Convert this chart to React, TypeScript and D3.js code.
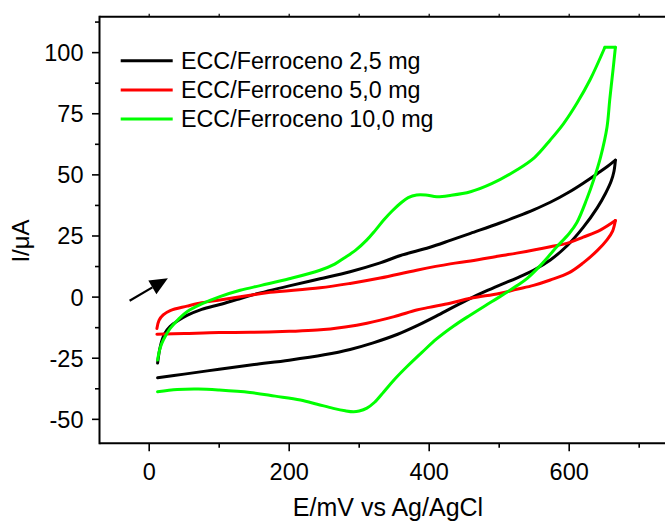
import React from "react";
import * as d3 from "d3";

type P = [number, number];

const seriesNames = ["ECC/Ferroceno 2,5 mg", "ECC/Ferroceno 5,0 mg", "ECC/Ferroceno 10,0 mg"];
const seriesColors = ["#000000", "#ff0000", "#00ff00"];

// E (mV), I (µA) — forward scan and reverse scan (reverse starts at the switching vertex)
const blackForward: P[] = [
  [12, -27], [16, -20], [22, -15], [30, -12], [42, -9.5], [54, -7.5], [75, -5], [101, -3], [125, -1],
  [149, 1], [200, 4.6], [244, 7.5], [287, 10.4], [330, 14], [359, 17], [400, 20.3], [430, 23.2],
  [459, 26.1], [500, 30.2], [525, 32.9], [550, 35.8], [573, 38.8], [600, 43], [620, 46.6],
  [640, 50.5], [655, 53.5], [666, 56],
];
const blackReverse: P[] = [
  [666, 56], [664, 51.5], [660, 47.5], [652, 42.5], [640, 36.5], [620, 28.5], [597, 21], [573, 15.2],
  [549, 11], [525, 7.8], [500, 4.8], [480, 2.3], [459, -0.5], [435, -4], [410, -7.8], [382, -11.8],
  [355, -15.2], [320, -18.7], [287, -21.4], [250, -23.6], [200, -25.8], [150, -27.6], [100, -29.5],
  [50, -31.5], [12, -33],
];

const redForward: P[] = [
  [11, -12.8], [14, -9.5], [20, -7.3], [30, -5.5], [54, -3.7], [75, -2.3], [101, -1.2], [144, 0.8],
  [173, 2], [244, 3.8], [287, 5.6], [330, 7.8], [382, 11], [430, 13.6], [459, 14.8], [500, 16.8],
  [525, 18], [573, 20.6], [600, 22.3], [620, 24.5], [645, 27.5], [666, 31.3],
];
const redReverse: P[] = [
  [666, 31.3], [662, 27], [654, 23.4], [640, 19], [620, 14], [600, 10], [573, 7], [549, 4.8], [525, 3.2],
  [500, 1.5], [459, -0.5], [430, -2.5], [400, -4.2], [382, -5.3], [350, -8], [311, -10.7],
  [280, -12.2], [240, -13.5], [200, -14], [144, -14.4], [100, -14.5], [50, -14.9], [11, -15.2],
];

const greenForward: P[] = [
  [12, -25.7], [15, -21.5], [18, -18.9], [24, -15.5], [30, -12.8], [42, -9], [54, -6], [75, -2.8],
  [101, 0.2], [130, 2.8], [160, 4.8], [200, 7.5], [244, 11], [265, 13.5], [278, 15.9], [295, 19.2],
  [311, 23.4], [323, 27.3], [335, 31.5], [347, 35.2], [359, 38.4], [370, 40.7], [382, 41.8],
  [395, 41.8], [411, 41.1], [430, 41.6], [459, 43.1], [490, 46.5], [525, 52], [550, 57],
  [573, 64.3], [592, 71], [611, 79.3], [630, 89], [651, 102.2],
];
const greenFlat: P[] = [[651, 102.2], [666, 102.2]];
const greenReverse: P[] = [
  [666, 102.2], [663, 94], [658, 81], [654, 69.5], [645, 57.5], [635, 48], [625, 40], [611, 30.5],
  [600, 26], [582, 20.5], [573, 17.5], [560, 13.3], [540, 7.7], [525, 4.6], [500, 0], [480, -3.5],
  [459, -7.3], [435, -11.8], [411, -17], [390, -22.5], [368, -28.5], [350, -33.8], [335, -38.8],
  [322, -43], [311, -45.4], [300, -46.6], [292, -46.9], [280, -46.5], [263, -45.5], [240, -43.8],
  [216, -42.1], [180, -40.5], [144, -39], [100, -38], [70, -37.6], [40, -37.8], [12, -38.7],
];

const segments: { pts: P[]; color: number }[] = [
  { pts: blackForward, color: 0 },
  { pts: blackReverse, color: 0 },
  { pts: redForward, color: 1 },
  { pts: redReverse, color: 1 },
  { pts: greenForward, color: 2 },
  { pts: greenFlat, color: 2 },
  { pts: greenReverse, color: 2 },
];

const xMajor = [0, 200, 400, 600];
const xMinor = [100, 300, 500, 700];
const xTop = [0, 100, 200, 300, 400, 500, 600, 700];
const yMajor = [-50, -25, 0, 25, 50, 75, 100];
const yMinor = [-37.5, -12.5, 12.5, 37.5, 62.5, 87.5, 112.5];

const xLabel = "E/mV vs Ag/AgCl";
const yLabel = "I/\u03bcA";

// scan direction arrow (tail, head) in data units
const arrowPts: P[] = [[-28, -1.5], [26.7, 7.7]];

const W = 665;
const H = 522;
const L = 99.5;
const T = 16.7;
const B = 443.3;
const R = 668;

export default function App() {
  const x = d3.scaleLinear().domain([-71, 740]).range([L, 99.5 + 811 * 0.7]);
  const y = d3.scaleLinear().domain([-59.8, 114.7]).range([B, T]);
  const line = d3
    .line<P>()
    .x((d) => x(d[0]))
    .y((d) => y(d[1]))
    .curve(d3.curveCatmullRom.alpha(0.5));

  const font = "Arial, 'Liberation Sans', Helvetica, sans-serif";

  const ax0 = x(arrowPts[0][0]);
  const ay0 = y(arrowPts[0][1]);
  const ax1 = x(arrowPts[1][0]);
  const ay1 = y(arrowPts[1][1]);
  const ang = Math.atan2(ay1 - ay0, ax1 - ax0);
  const headLen = 18;
  const headW = 8;
  const bx = ax1 - headLen * Math.cos(ang);
  const by = ay1 - headLen * Math.sin(ang);
  const px = -Math.sin(ang);
  const py = Math.cos(ang);
  const head = `${ax1},${ay1} ${bx + headW * px},${by + headW * py} ${bx - headW * px},${by - headW * py}`;

  return (
    <svg
      width={W}
      height={H}
      style={{ position: "absolute", left: 0, top: 0, background: "#fff" }}
      fontFamily={font}
    >
      <rect x={0} y={0} width={W} height={H} fill="#fff" />
      {/* curves */}
      {segments.map((s, i) => (
        <path
          key={i}
          d={line(s.pts) || ""}
          fill="none"
          stroke={seriesColors[s.color]}
          strokeWidth={3}
          strokeLinejoin="round"
          strokeLinecap="round"
        />
      ))}
      {/* frame */}
      <line x1={L} y1={T} x2={R} y2={T} stroke="#000" strokeWidth={2} />
      <line x1={L} y1={B} x2={R} y2={B} stroke="#000" strokeWidth={2} />
      <line x1={L} y1={T - 1} x2={L} y2={B + 1} stroke="#000" strokeWidth={2} />
      {/* x ticks */}
      {xMajor.map((v) => (
        <g key={"xm" + v}>
          <line x1={x(v)} x2={x(v)} y1={B} y2={B + 8} stroke="#000" strokeWidth={1.6} />
          <text x={x(v)} y={B + 37} textAnchor="middle" fontSize={23.5} fill="#000">
            {v}
          </text>
        </g>
      ))}
      {xMinor.map((v) => (
        <line key={"xn" + v} x1={x(v)} x2={x(v)} y1={B} y2={B + 4.5} stroke="#000" strokeWidth={1.6} />
      ))}
      {xTop.map((v) => (
        <line key={"xt" + v} x1={x(v)} x2={x(v)} y1={T} y2={T - 3} stroke="#000" strokeWidth={1.2} />
      ))}
      {/* y ticks */}
      {yMajor.map((v) => (
        <g key={"ym" + v}>
          <line x1={L - 7.5} x2={L} y1={y(v)} y2={y(v)} stroke="#000" strokeWidth={1.6} />
          <text x={83.5} y={y(v) + 8.5} textAnchor="end" fontSize={23.5} fill="#000">
            {v < 0 ? "-" + Math.abs(v) : String(v)}
          </text>
        </g>
      ))}
      {yMinor.map((v) => (
        <line key={"yn" + v} x1={L - 4.5} x2={L} y1={y(v)} y2={y(v)} stroke="#000" strokeWidth={1.6} />
      ))}
      {/* axis labels */}
      <text x={388} y={516} textAnchor="middle" fontSize={25} fill="#000">
        {xLabel}
      </text>
      <text
        transform={`translate(28.5, 241) rotate(-90)`}
        textAnchor="middle"
        fontSize={24}
        fill="#000"
      >
        {yLabel}
      </text>
      {/* legend */}
      {seriesNames.map((n, i) => {
        const ly = 60.7 + i * 29.2;
        return (
          <g key={"lg" + i}>
            <line x1={120.7} x2={172.7} y1={ly} y2={ly} stroke={seriesColors[i]} strokeWidth={3} />
            <text x={181} y={ly + 8.3} fontSize={23.3} fill="#000">
              {n}
            </text>
          </g>
        );
      })}
      {/* arrow */}
      <line x1={ax0} y1={ay0} x2={bx} y2={by} stroke="#000" strokeWidth={2.2} />
      <polygon points={head} fill="#000" />
    </svg>
  );
}
